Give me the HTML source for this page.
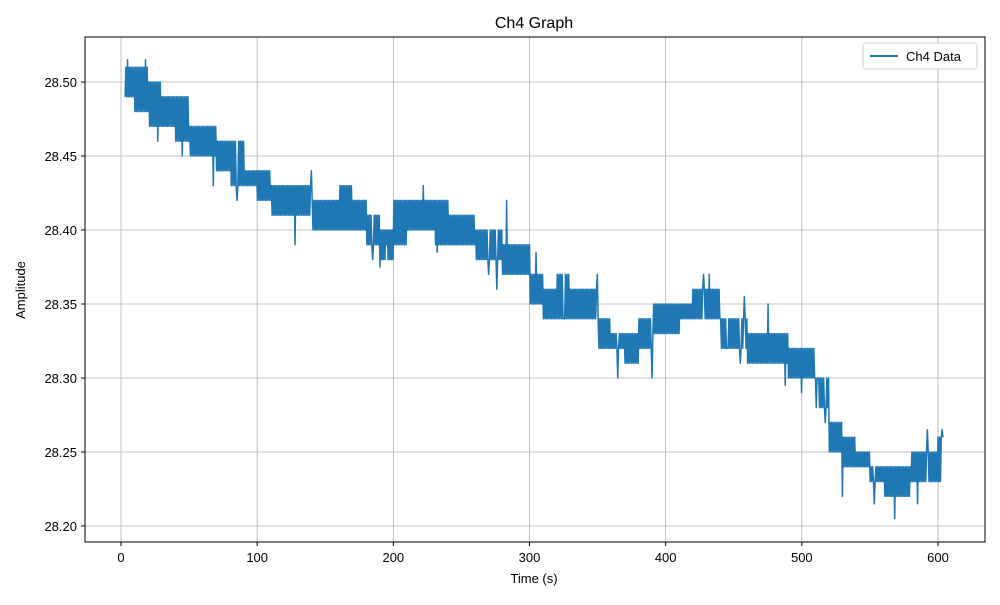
<!DOCTYPE html>
<html><head><meta charset="utf-8"><style>
body{margin:0;background:#fff;}
svg text{font-family:"Liberation Sans","DejaVu Sans",sans-serif;fill:#000;}
</style></head><body>
<svg id="chart" width="1000" height="600" xmlns="http://www.w3.org/2000/svg">
<rect width="1000" height="600" fill="#fff"/>
<text x="534" y="28" font-size="16" text-anchor="middle">Ch4 Graph</text>
<g id="grid"></g>
<g id="series" clip-path="url(#clip)"></g>
<defs><clipPath id="clip"><rect x="85" y="37" width="900" height="505"/></clipPath></defs>
<rect x="85" y="37" width="900" height="505" fill="none" stroke="#000" stroke-width="1"/>
<g id="ticks"></g>
<text x="534" y="583" font-size="13" text-anchor="middle">Time (s)</text>
<text x="25" y="290" font-size="13" text-anchor="middle" transform="rotate(-90 25 290)">Amplitude</text>
<g>
<rect x="863" y="43" width="114" height="26" rx="3" fill="#fff" stroke="#ccc"/>
<line x1="870" y1="56" x2="898" y2="56" stroke="#1f77b4" stroke-width="2"/>
<text x="906" y="61" font-size="13">Ch4 Data</text>
</g>
</svg>
<script>
const binStart=[0,10,20,30,40,50,60,70,80,90,100,110,120,130,140,150,160,170,180,190,200,210,220,230,240,250,260,270,280,290,300,310,320,330,340,350,360,370,380,390,400,410,420,430,440,450,460,470,480,490,500,510,520,530,540,550,560,570,580,590,600];
const lo=[28.49,28.48,28.47,28.47,28.46,28.45,28.45,28.44,28.43,28.43,28.42,28.41,28.41,28.41,28.40,28.40,28.40,28.40,28.39,28.38,28.39,28.40,28.40,28.39,28.39,28.39,28.38,28.38,28.37,28.37,28.35,28.34,28.34,28.34,28.34,28.32,28.32,28.31,28.32,28.33,28.33,28.34,28.34,28.34,28.32,28.32,28.31,28.31,28.31,28.30,28.30,28.28,28.25,28.24,28.24,28.23,28.22,28.22,28.23,28.23,28.23];
const hi=[28.51,28.51,28.50,28.49,28.49,28.47,28.47,28.46,28.46,28.44,28.44,28.43,28.43,28.43,28.42,28.42,28.43,28.42,28.41,28.40,28.42,28.42,28.42,28.42,28.41,28.41,28.40,28.40,28.39,28.39,28.37,28.36,28.37,28.36,28.36,28.34,28.33,28.33,28.34,28.35,28.35,28.35,28.36,28.36,28.34,28.34,28.33,28.33,28.33,28.32,28.32,28.30,28.27,28.26,28.25,28.24,28.24,28.24,28.25,28.25,28.26];
const spikeT=[5,18,27,45,68,85,128,140,185,190,195,222,232,270,276,283,305,325,350,365,390,428,432,445,455,458,475,488,500,512,517,530,553,568,585,592,603];
const spikeV=[28.515,28.515,28.46,28.45,28.43,28.42,28.39,28.44,28.38,28.375,28.39,28.43,28.385,28.37,28.36,28.42,28.385,28.34,28.37,28.30,28.30,28.37,28.37,28.32,28.31,28.355,28.35,28.295,28.29,28.30,28.27,28.22,28.215,28.205,28.215,28.265,28.265];
const xTicks=[0,100,200,300,400,500,600];
const yTicks=[28.20,28.25,28.30,28.35,28.40,28.45,28.50];
const tStart=3, tEnd=604;
const NS="http://www.w3.org/2000/svg";
const X=t=>121+(t)*(938-121)/600;
const Y=v=>82+(28.50-v)*(526-82)/0.30;
const grid=document.getElementById('grid'),ticks=document.getElementById('ticks'),ser=document.getElementById('series');
function mk(tag,attrs,parent){const e=document.createElementNS(NS,tag);for(const k in attrs)e.setAttribute(k,attrs[k]);parent.appendChild(e);return e;}
xTicks.forEach(t=>{
 const g=mk('line',{x1:X(t),x2:X(t),y1:37,y2:542,stroke:'#b0b0b0','stroke-width':0.8},grid);
 
 
 mk('line',{x1:X(t),x2:X(t),y1:542,y2:546,stroke:'#000'},ticks);
 const tx=mk('text',{x:X(t),y:562,'font-size':13,'text-anchor':'middle'},ticks);tx.textContent=t;
 
 
});
yTicks.forEach(v=>{
 const g=mk('line',{x1:85,x2:985,y1:Y(v),y2:Y(v),stroke:'#b0b0b0','stroke-width':0.8},grid);
 
 
 mk('line',{x1:81,x2:85,y1:Y(v),y2:Y(v),stroke:'#000'},ticks);
 const tx=mk('text',{x:77,y:Y(v)+5,'font-size':13,'text-anchor':'end'},ticks);tx.textContent=v.toFixed(2);
 
 
});
const pts=[];const step=0.6;let k=0;
for(let t=tStart;t<=tEnd;t+=step,k++){
 const b=Math.min(binStart.length-1,Math.floor(t/10));
 let v=(k%2)?hi[b]:lo[b];
 spikeT.forEach((st,i)=>{if(Math.abs(st-t)<step/2)v=spikeV[i];});
 pts.push(X(t).toFixed(2)+','+Y(v).toFixed(2));
}
const line=mk('polyline',{points:pts.join(' '),fill:'none',stroke:'#1f77b4','stroke-width':1.5,'stroke-linejoin':'round'},ser);


</script>
</body></html>
